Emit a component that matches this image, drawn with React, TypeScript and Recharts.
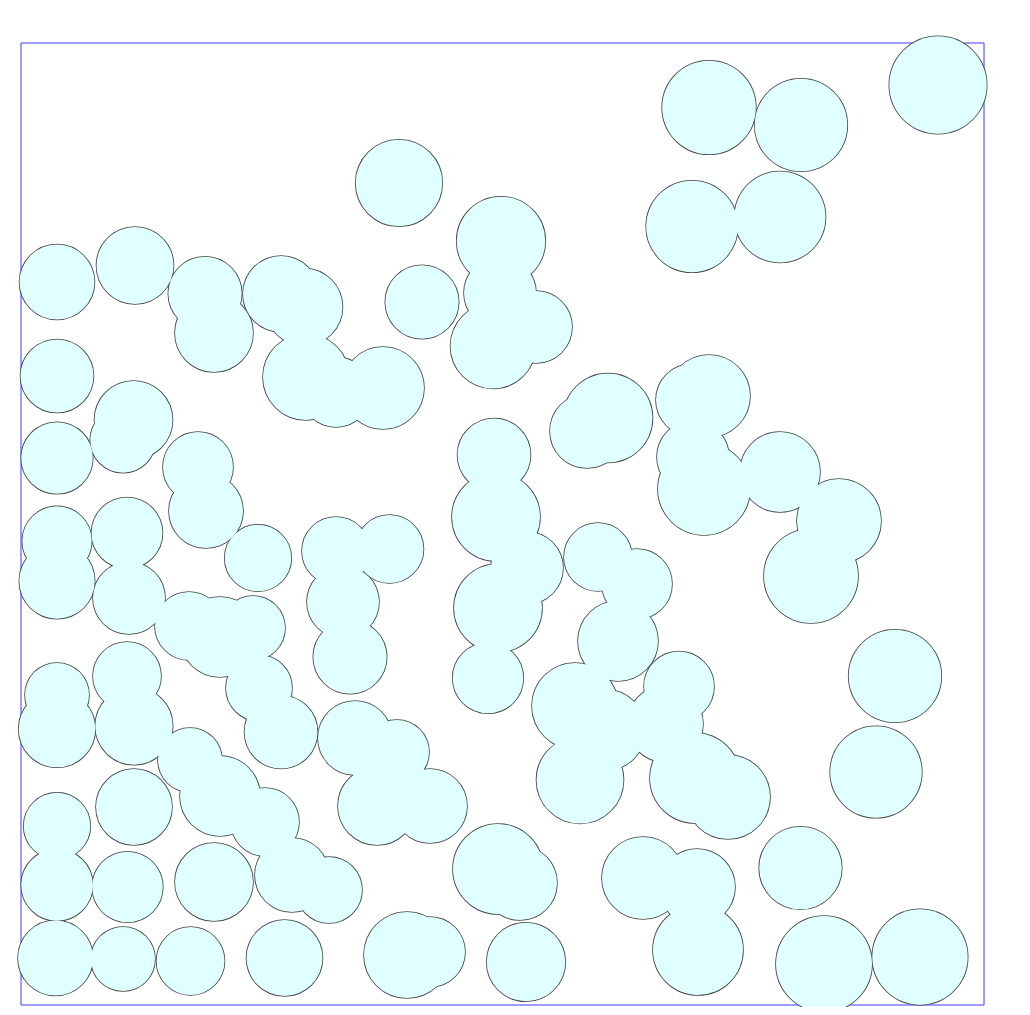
import React from "react";
import {
  ScatterChart,
  Scatter,
  XAxis,
  YAxis,
  ReferenceArea,
} from "recharts";

// circle centres and radii (frame = 963 x 962 units)
const circleX = [
  36, 114, 184, 193, 260, 283, 285, 315, 362, 378, 401, 480, 479, 515, 472,
  688, 780, 917, 671, 759, 36, 36, 112.5, 102, 177, 185, 36, 36, 106, 108,
  237, 315, 322, 329, 368.5, 168, 199, 232, 238, 36, 106, 36, 113, 260, 169,
  199, 244, 271, 308, 113, 36, 36, 106.5, 193, 34.5, 102, 169.5, 263.5, 334,
  376, 356, 409, 467, 477, 499, 505, 386, 409, 554, 559, 584, 644, 674, 707,
  597, 658, 622, 676, 677, 779.5, 855, 874, 803, 899, 688, 671, 672, 683, 759,
  818, 790, 587, 566, 473, 475, 506, 477, 577, 616,
];
const circleY = [
  723, 739.5, 711.5, 672, 711, 698, 628, 613, 617, 822, 703, 764, 712, 678,
  659, 897.5, 880, 920, 778.5, 788, 629, 547, 585, 565, 538, 494, 464, 424,
  472, 407, 447, 454, 403, 348, 456, 379, 368, 377, 317, 310, 329, 276, 279,
  273, 245, 209, 183, 130, 115, 198, 179, 120, 118, 123, 47, 46, 44, 47, 267,
  253, 199, 199, 327, 136, 122, 43, 50, 53, 299, 225, 275, 281, 227, 208, 364,
  318.5, 127, 118, 55, 137, 233, 329, 41, 48, 609, 605, 548, 516, 533, 484,
  429, 587, 574, 550, 488, 437, 397, 448, 421,
];
const circleR = [
  37.5, 38.5, 36.7, 39, 38, 38.5, 43, 35, 41, 43.3, 36.7, 44.3, 36, 36, 42.5,
  46.8, 46.3, 48.7, 45.8, 45.5, 36.5, 35.8, 39, 32.7, 35, 37, 34.7, 37.7, 35.5,
  36, 33.3, 34, 36, 36.7, 34, 34, 40, 32, 33, 32, 34, 38.3, 38.7, 36.5, 32, 40,
  34, 37, 33, 38, 33.3, 35.8, 35.3, 39, 37.5, 32, 34, 38, 37, 32, 39, 37, 35.3,
  45, 37, 39.3, 43, 35, 43, 43.5, 40.5, 38, 45, 42, 40, 35, 41, 38, 45, 41.3,
  45.8, 46.3, 48, 47.7, 41, 36, 36, 46, 40, 42, 47, 44.5, 37, 36.5, 44, 36, 44,
  34, 35,
];

const X_MAX = 963;
const Y_MAX = 962;

const WIDTH = 1014;
const HEIGHT = 999;
const margin = { top: 35, right: 38, bottom: 2, left: 13 };
const UNIT = (WIDTH - margin.left - margin.right) / X_MAX;

const points = circleX.map((x, i) => ({ x, y: circleY[i], r: circleR[i] }));

const fillColor = "#e0ffff";
const edgeColor = "#454545";

// under layer: outlined discs; top layer: plain discs that hide inner arcs
const OutlineDisc = (props: any) => (
  <circle
    cx={props.cx}
    cy={props.cy}
    r={props.payload.r * UNIT}
    fill={fillColor}
    stroke={edgeColor}
    strokeWidth={1.6}
  />
);

const PlainDisc = (props: any) => (
  <circle
    cx={props.cx}
    cy={props.cy}
    r={props.payload.r * UNIT}
    fill={fillColor}
    stroke="none"
  />
);

export default function App() {
  return (
    <div style={{ width: WIDTH, height: HEIGHT }}>
      <style>{`body{overflow:hidden} .recharts-surface{overflow:visible}`}</style>
      <ScatterChart width={WIDTH} height={HEIGHT} margin={margin}>
        <XAxis type="number" dataKey="x" domain={[0, X_MAX]} hide />
        <YAxis type="number" dataKey="y" domain={[0, Y_MAX]} hide />
        <ReferenceArea
          x1={0}
          x2={X_MAX}
          y1={0}
          y2={Y_MAX}
          fill="none"
          stroke="#3b3bff"
          strokeWidth={1}
          fillOpacity={0}
        />
        <Scatter data={points} shape={OutlineDisc} isAnimationActive={false} />
        <Scatter data={points} shape={PlainDisc} isAnimationActive={false} />
      </ScatterChart>
    </div>
  );
}
